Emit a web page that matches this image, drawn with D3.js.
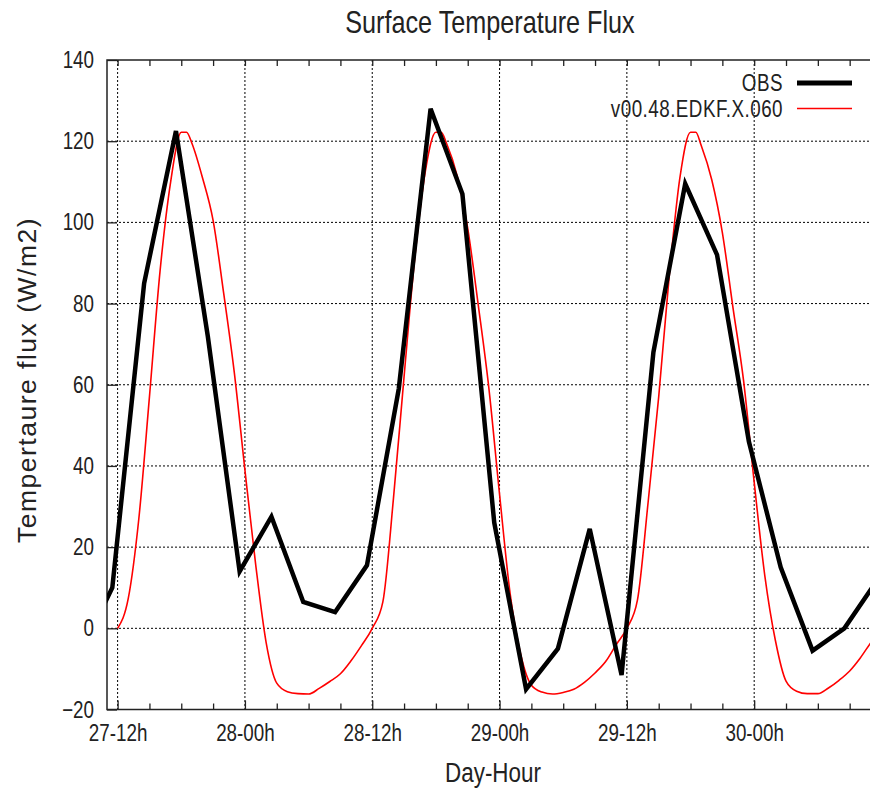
<!DOCTYPE html>
<html>
<head>
<meta charset="utf-8">
<script src="https://cdn.jsdelivr.net/npm/d3@7"></script>
<style>
  body { margin: 0; background: #fff; }
  svg text { font-family: "Liberation Sans", Arial, sans-serif; fill: #222; }
</style>
</head>
<body>
<div id="chart"></div>
<script>
// hours counted from day 27, 00h
const obsHours = [8.5, 11.5, 14.5, 17.5, 20.5, 23.5, 26.5, 29.5, 32.5, 35.5, 38.5, 41.5, 44.5,
  47.5, 50.5, 53.5, 56.5, 59.5, 62.5, 65.5, 68.5, 71.5, 74.5, 77.5, 80.5, 83.5];
const obsValues = [-6, 10, 85, 122.5, 72, 14, 27.5, 6.5, 4, 15.5, 59, 128, 107,
  26, -15, -5, 24.5, -11.5, 68, 109.5, 92, 46, 15, -5.5, 0, 11.5];

const modelHours = [12, 13, 14, 15, 16, 17, 18, 18.5, 19, 20, 21, 22, 23, 24, 25, 26, 27, 28, 29, 30,
  31, 32, 33, 34, 35, 36, 37, 38, 39, 40, 41, 42, 42.5, 43, 44, 45, 46, 47, 48, 49, 50,
  51, 52, 53, 54, 55, 56, 57, 58, 59, 60, 61, 62, 63, 64, 65, 66, 66.5, 67, 68, 69, 70,
  71, 72, 73, 74, 75, 76, 77, 78, 79, 80, 81, 82, 83, 84];
const modelValues = [0, 7.3, 27, 57, 88, 110, 122.2, 122.2, 119.5, 111, 100.5, 82.5, 63, 39, 16, -3.5, -13.5, -15.6, -16.1, -16.2,
  -14.8, -13.1, -11.2, -8, -4.2, 0, 6.5, 32, 62, 91, 112.5, 122.2, 122.2, 119.5, 111.5, 98.5, 79.5, 59, 33, 8.5, -6.5,
  -14, -15.7, -16.2, -15.8, -15, -13.3, -11, -8.2, -4, 0, 7, 31, 57, 87, 111, 122.2, 122.2, 119, 110.5, 97.5, 79,
  61, 36, 13, -3, -13, -15.5, -16.1, -16.1, -14.7, -12.8, -10.5, -7.3, -3.5, 0];

const seriesNames = ["OBS", "v00.48.EDKF.X.060"];
const majorHours = [12, 24, 36, 48, 60, 72];
const yTicks = [-20, 0, 20, 40, 60, 80, 100, 120, 140];

const width = 870, height = 790;
const margin = {top: 60, left: 107, bottom: 80.5};
const plotRight = 881.5;
const squeeze = 0.8; // the original font is a condensed one

const svg = d3.select('#chart').append('svg')
  .attr('width', width)
  .attr('height', height);

const x = d3.scaleLinear().domain([11, 84]).range([margin.left, plotRight]);
const y = d3.scaleLinear().domain([-20, 140]).range([height - margin.bottom, margin.top]);

const fmtHour = h => `${27 + Math.floor(h / 24)}-${String(h % 24).padStart(2, '0')}h`;

// squeeze text horizontally around its anchor point
function narrow(sel) {
  sel.each(function() {
    const t = d3.select(this);
    const ax = +t.attr('x') || 0;
    t.attr('transform', `translate(${ax},0) scale(${squeeze},1) translate(${-ax},0)`);
  });
}

svg.append('clipPath').attr('id', 'plot-clip')
  .append('rect')
  .attr('x', x(11)).attr('y', y(140))
  .attr('width', x(84) - x(11)).attr('height', y(-20) - y(140));

// grid
const grid = svg.append('g').attr('class', 'grid')
  .attr('stroke', '#000').attr('stroke-width', 1).attr('stroke-dasharray', '2,2');
grid.selectAll('.gx').data(majorHours).enter().append('line')
  .attr('x1', d => x(d)).attr('x2', d => x(d))
  .attr('y1', y(140)).attr('y2', y(-20));
grid.selectAll('.gy').data(yTicks.slice(1, -1)).enter().append('line')
  .attr('x1', x(11)).attr('x2', x(84))
  .attr('y1', d => y(d)).attr('y2', d => y(d));

// axes
const minorHours = d3.range(12, 84, 3).filter(h => h % 12 !== 0);

svg.append('g')
  .attr('transform', `translate(0,${y(-20)})`)
  .call(d3.axisBottom(x).tickValues(minorHours).tickSizeInner(-6).tickSizeOuter(0).tickFormat(''));
svg.append('g')
  .attr('class', 'xaxis')
  .attr('transform', `translate(0,${y(-20)})`)
  .call(d3.axisBottom(x).tickValues(majorHours).tickSizeInner(-9).tickSizeOuter(0).tickPadding(15).tickFormat(fmtHour));
svg.append('g')
  .attr('transform', `translate(0,${y(140)})`)
  .call(d3.axisTop(x).tickValues(minorHours.concat(majorHours)).tickSizeInner(-6).tickSizeOuter(0).tickFormat(''));
svg.append('g')
  .attr('class', 'yaxis')
  .attr('transform', `translate(${x(11)},0)`)
  .call(d3.axisLeft(y).tickValues(yTicks).tickSizeInner(-10).tickSizeOuter(0).tickPadding(13).tickFormat(d3.format('d')));

svg.selectAll('.domain').remove();
svg.selectAll('.tick line').attr('stroke', '#222').attr('stroke-width', 1.3);
svg.selectAll('.xaxis text, .yaxis text')
  .attr('font-size', 23.5).attr('fill', '#222')
  .call(narrow);

// frame
svg.append('rect')
  .attr('x', x(11)).attr('y', y(140))
  .attr('width', x(84) - x(11)).attr('height', y(-20) - y(140))
  .attr('fill', 'none').attr('stroke', '#222').attr('stroke-width', 1.5);

// lines
const plot = svg.append('g').attr('clip-path', 'url(#plot-clip)');

const modelLine = d3.line()
  .x((d, i) => x(modelHours[i]))
  .y(d => y(d))
  .curve(d3.curveMonotoneX);
plot.append('path')
  .datum(modelValues)
  .attr('fill', 'none')
  .attr('stroke', '#ff0000')
  .attr('stroke-width', 1.6)
  .attr('d', modelLine);

const obsLine = d3.line()
  .x((d, i) => x(obsHours[i]))
  .y(d => y(d));
plot.append('path')
  .datum(obsValues)
  .attr('fill', 'none')
  .attr('stroke', '#000')
  .attr('stroke-width', 4.5)
  .attr('stroke-linejoin', 'miter')
  .attr('d', obsLine);

// legend
const legend = svg.append('g').attr('class', 'legend');
const legendStyle = [{color: '#000', w: 5}, {color: '#ff0000', w: 1.6}];
seriesNames.forEach((name, i) => {
  const ly = 83 + i * 25.5;
  legend.append('text')
    .attr('x', 783).attr('y', ly).attr('dy', '0.35em')
    .attr('text-anchor', 'end').attr('font-size', 23.5)
    .attr('letter-spacing', 0.6)
    .text(name)
    .call(narrow);
  legend.append('line')
    .attr('x1', 797).attr('x2', 852)
    .attr('y1', ly).attr('y2', ly)
    .attr('stroke', legendStyle[i].color)
    .attr('stroke-width', legendStyle[i].w);
});

// titles
svg.append('text')
  .attr('x', 490).attr('y', 22).attr('dy', '0.35em')
  .attr('text-anchor', 'middle').attr('font-size', 31.5)
  .text('Surface Temperature Flux')
  .call(narrow);

svg.append('text')
  .attr('transform', 'translate(27,380) rotate(-90)')
  .attr('dy', '0.35em')
  .attr('text-anchor', 'middle').attr('font-size', 26.5)
  .attr('letter-spacing', 1.5)
  .text('Tempertaure flux (W/m2)');

svg.append('text')
  .attr('x', 493).attr('y', 772).attr('dy', '0.35em')
  .attr('text-anchor', 'middle').attr('font-size', 28)
  .text('Day-Hour')
  .call(narrow);
</script>
</body>
</html>
